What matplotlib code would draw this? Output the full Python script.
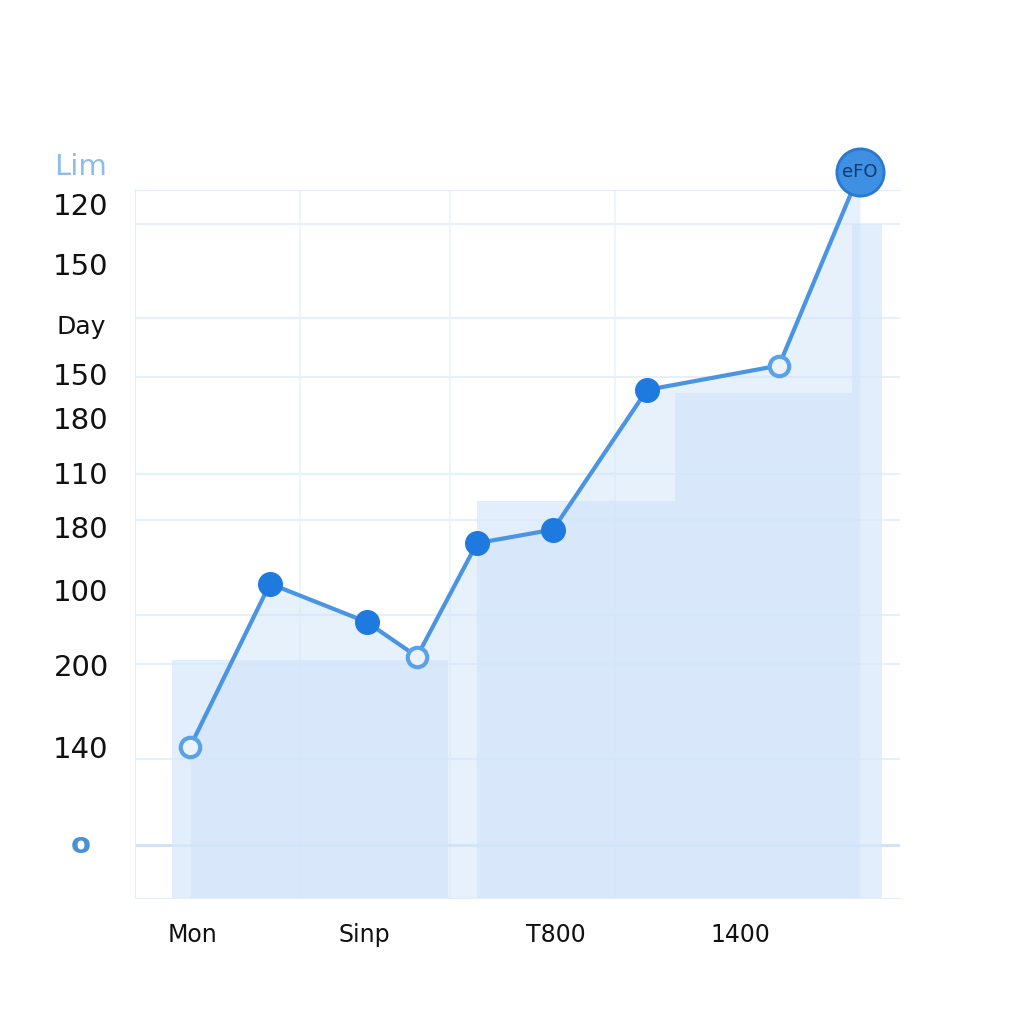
import matplotlib.pyplot as plt
import numpy as np

# values (0 at the baseline, ~100 at the top marker)
x_pos = [19.0, 27.0, 36.7, 41.7, 47.7, 55.3, 64.7, 77.9, 86.0]
values = [14.5, 38.7, 33.0, 27.9, 44.7, 46.7, 67.4, 71.0, 99.7]
hollow = [True, False, False, True, False, False, False, True, False]

# shaded bands behind the line
band_left = [17.2, 47.7, 67.5, 85.2]
band_right = [44.8, 67.5, 85.2, 88.2]
band_top = [27.4, 51.0, 67.0, 92.0]

y_tick_pos = [100.4, 94.5, 85.6, 76.7, 69.3, 62.8, 54.7, 46.7, 37.3, 26.2, 14.1, 0.0]
y_tick_labels = ["Lim", "120", "150", "Day", "150", "180", "110", "180", "100", "200", "140", "o"]
x_tick_pos = [19.3, 36.4, 55.6, 74.0]
x_tick_labels = ["Mon", "Sinp", "T800", "1400"]
h_grid = [92.0, 78.1, 69.3, 55.0, 48.1, 34.0, 26.8, 12.8]
v_grid = [30.0, 45.0, 61.5]

line_c = "#4a94e2"
dark_c = "#1f7ae0"

fig = plt.figure(figsize=(10.24, 10.24), dpi=100)
ax = fig.add_axes([135 / 1024, 126 / 1024, 765 / 1024, 708 / 1024])
ax.set_xlim(13.5, 90)
ax.set_ylim(-7.85, 97)

for yv in h_grid:
    ax.axhline(yv, color="#e6f0fa", lw=1.5, zorder=0)
for xv in v_grid:
    ax.axvline(xv, color="#edf3fa", lw=1.2, zorder=0)
ax.axhline(0, color="#cfe2f5", lw=2, zorder=1)

for l, r, t in zip(band_left, band_right, band_top):
    ax.fill_between([l, r], -7.85, t, color="#d6e8fb", alpha=0.7, lw=0, zorder=1)
ax.fill_between(x_pos, -7.85, values, color="#cfe4fa", alpha=0.5, lw=0, zorder=1)

ax.plot(x_pos, values, color=line_c, lw=3, zorder=3, clip_on=False)
for xv, yv, h in zip(x_pos[:-1], values[:-1], hollow[:-1]):
    if h:
        ax.plot(xv, yv, "o", ms=14, mfc="#eaf3fd", mec="#5aa2e8", mew=3, zorder=4)
    else:
        ax.plot(xv, yv, "o", ms=17, color=dark_c, zorder=4)
ax.plot(x_pos[-1], values[-1], "o", ms=34, mfc="#3f8fe3", mec="#2a78d0", mew=2,
        zorder=4, clip_on=False)
ax.text(x_pos[-1], values[-1], "eFO", color="#103a70", ha="center", va="center",
        fontsize=13, zorder=5, clip_on=False)

for s in ax.spines.values():
    s.set_visible(True)
    s.set_color("#e3edf7")
ax.spines["right"].set_visible(False)
ax.set_xticks([])
ax.set_yticks([])

for yv, lab in zip(y_tick_pos, y_tick_labels):
    col = "#111111"
    if lab == "Lim":
        col = "#8fbce8"
    if lab == "o":
        col = "#4a90d9"
    ax.text(12.5 - 4.4, yv, lab, ha="center", va="center", fontsize=21 if lab != "Day" else 18,
            color=col, clip_on=False, fontweight="bold" if lab == "o" else "normal")
for xv, lab in zip(x_tick_pos, x_tick_labels):
    ax.text(xv, -13.3, lab, ha="center", va="center", fontsize=17, color="#111111", clip_on=False)

fig.savefig("out.png", dpi=100, facecolor="white")
